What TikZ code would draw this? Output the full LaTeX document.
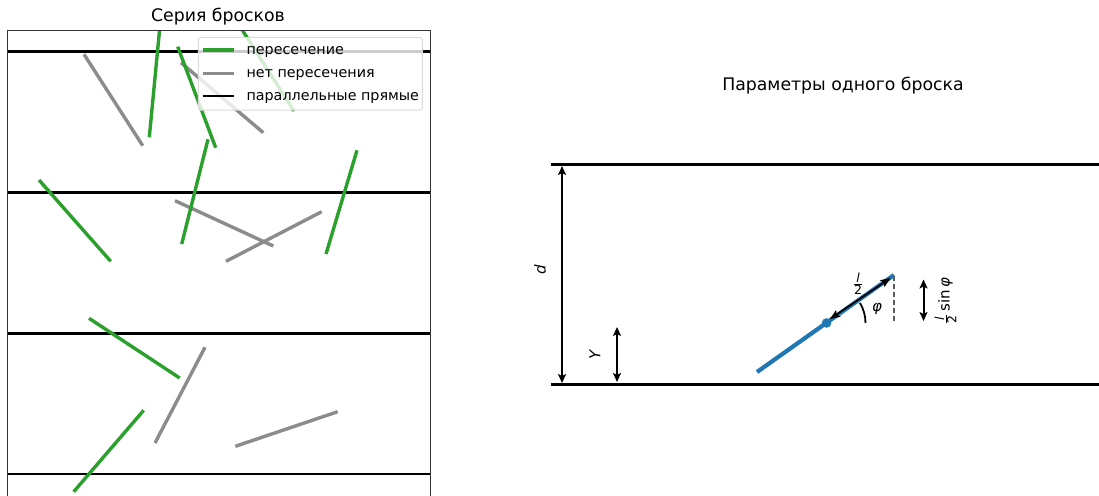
\documentclass[tikz,border=0pt]{standalone}
\usepackage{amsmath}
\usepackage{fontspec}
\setmainfont{DejaVu Sans}
\usetikzlibrary{arrows.meta,calc}
\definecolor{tabgreen}{HTML}{2CA02C}
\definecolor{tabgray}{HTML}{8C8C8C}
\definecolor{tabblue}{HTML}{1F77B4}
\newcommand{\halfl}{$\genfrac{}{}{0.7pt}{}{\hbox{\fontsize{12.5}{12.5}\selectfont\itshape l}}{\hbox{\fontsize{12.5}{12.5}\selectfont 2}}$}
\tikzset{
  hit/.style={tabgreen, line width=3.4pt},
  miss/.style={tabgray, line width=3.4pt},
  parline/.style={black, line width=2.8pt},
  dimarrow/.style={black, line width=1.6pt, {Stealth[length=9pt,width=8pt,inset=2pt]}-{Stealth[length=9pt,width=8pt,inset=2pt]}},
  ttl/.style={font=\fontsize{17.3}{20}\selectfont},
  lbl/.style={font=\fontsize{14.3}{16}\selectfont},
}
\begin{document}
\begin{tikzpicture}[x=1pt,y=-1pt]
\useasboundingbox (0,0) rectangle (1099,495);
% ---------- left panel ----------
\node[ttl] (t1) at (218,17) {Серия бросков};
\begin{scope}
\clip (7.3,31) rectangle (430,495);
\foreach \yy in {51.7,192.7,333.7,474} \draw[parline] (7.3,\yy) -- (430,\yy);
% no crossing
\draw[miss] (84,54.3) -- (142.7,145.7);
\draw[miss] (181,62.7) -- (263.3,132.7);
\draw[miss] (175,200.7) -- (273.3,246);
\draw[miss] (226,261.3) -- (321.7,211.7);
\draw[miss] (205,347.3) -- (155,443);
\draw[miss] (235.3,446.3) -- (337.7,411.7);
% crossing
\draw[hit] (160.5,20) -- (149.3,137.3);
\draw[hit] (177.7,46.7) -- (215.7,147.7);
\draw[hit] (236.3,20.7) -- (294,111);
\draw[hit] (208,139.3) -- (181.7,244);
\draw[hit] (39,180) -- (110.7,261.3);
\draw[hit] (357,150.3) -- (326,254);
\draw[hit] (89,318.3) -- (179.7,378);
\draw[hit] (143.7,410.3) -- (73.7,491.7);
\end{scope}
\draw[black!80, line width=1pt] (7.3,497) -- (7.3,31) -- (430,31) -- (430,497);
% legend
\node[draw=black!15, fill=white, fill opacity=0.8, rounded corners=2pt, minimum width=224pt, minimum height=72.5pt, line width=0.9pt] (leg) at (310.3,73.8) {};
\draw[hit] (202.7,50) -- (234,50);
\draw[miss] (202.7,73.3) -- (234,73.3);
\draw[black, line width=2.8pt] (202.7,96) -- (234,96);
\node[lbl, anchor=west] (l1) at (243,52) {пересечение};
\node[lbl, anchor=west] (l2) at (243,75.3) {нет пересечения};
\node[lbl, anchor=west] (l3) at (243,98) {параллельные прямые};
% ---------- right panel ----------
\node[ttl] (t2) at (843,86) {Параметры одного броска};
\coordinate (ltop) at (551,164.3);
\coordinate (lbot) at (551,384.7);
\draw[parline] (ltop) -- (1099,164.3);
\draw[parline] (lbot) -- (1099,384.7);
\coordinate (da) at (562,166);
\coordinate (db) at (562,383);
\draw[dimarrow, line width=1.4pt] (da) -- (db);
\node[rotate=90, font=\fontsize{15}{16}\selectfont\itshape] (dl) at (540,270) {d};
\coordinate (ya) at (617,327);
\coordinate (yb) at (617,382);
\draw[dimarrow, line width=2pt] (ya) -- (yb);
\node[rotate=90, font=\fontsize{15}{16}\selectfont\itshape] (yl) at (595,355) {Y};
% needle
\coordinate (n1) at (757,372);
\coordinate (n2) at (894,275);
\coordinate (c) at (826.5,323);
\draw[tabblue, line width=4.2pt] (n1) -- (n2);
\fill[tabblue] (c) circle (4.8);
\draw[black, line width=1.8pt, {Stealth[length=10pt,width=8pt,inset=2pt]}-{Stealth[length=10pt,width=8pt,inset=2pt]}] (830,319) -- (890.5,278);
\draw[black, line width=1.8pt] ($(c)+(39,0)$) arc[start angle=0, end angle=-31, radius=39];
\node[font=\fontsize{15}{16}\selectfont\itshape] (phi) at (877,309) {φ};
\draw[black!65, line width=1.6pt, dash pattern=on 5pt off 3pt] (894,276) -- (894,322);
\node[inner sep=0pt] (half) at (858,284) {\halfl};
\coordinate (sa) at (923.5,279.5);
\coordinate (sb) at (923.5,321);
\draw[dimarrow, line width=2pt] (sa) -- (sb);
\node[rotate=90, inner sep=0pt, font=\fontsize{15}{16}\selectfont] (sl) at (945.5,301) {\halfl\,sin\,{\itshape φ}};
\end{tikzpicture}
\end{document}
